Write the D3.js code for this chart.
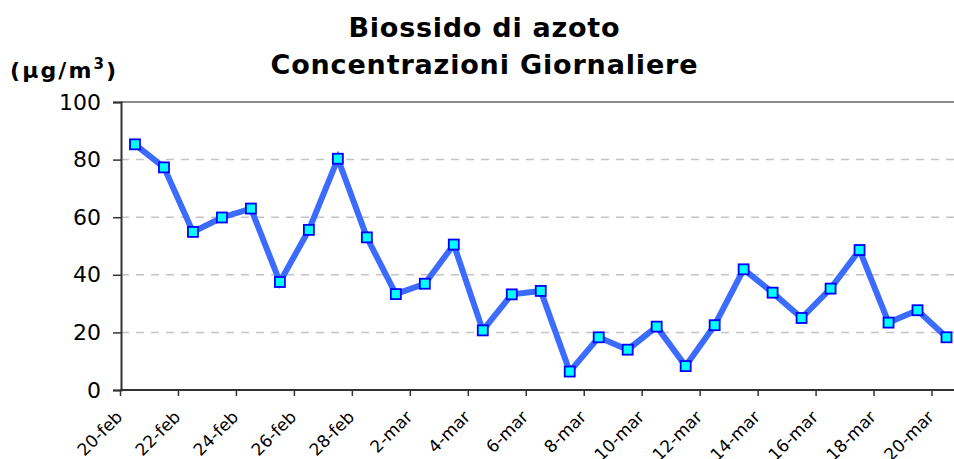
<!DOCTYPE html>
<html>
<head>
<meta charset="utf-8">
<script src="https://cdn.jsdelivr.net/npm/d3@7"></script>
<style>
  body { margin: 0; background: #fff; }
  svg { display: block; font-family: "DejaVu Sans", Verdana, sans-serif; }
</style>
</head>
<body>
<div id="chart"></div>
<script>
// daily NO2 concentrations, 20 Feb - 20 Mar
var days = ["20-feb","21-feb","22-feb","23-feb","24-feb","25-feb","26-feb","27-feb","28-feb",
  "1-mar","2-mar","3-mar","4-mar","5-mar","6-mar","7-mar","8-mar","9-mar","10-mar",
  "11-mar","12-mar","13-mar","14-mar","15-mar","16-mar","17-mar","18-mar","19-mar","20-mar"];
var values = [85.3, 77.3, 54.9, 59.9, 63.0, 37.5, 55.6, 80.3, 53.0,
  33.3, 36.9, 50.5, 20.7, 33.2, 34.4, 6.4, 18.3, 14.0, 22.0,
  8.3, 22.5, 41.9, 33.8, 25.0, 35.2, 48.6, 23.4, 27.7, 18.3];
var yTicks = [0, 20, 40, 60, 80, 100];

var width = 954, height = 459;

var svg = d3.select("#chart").append("svg")
  .attr("width", width)
  .attr("height", height);

// plot area runs a bit past the right edge, like the original picture
var x = d3.scaleBand().domain(days).range([120.5, 961]);
var y = d3.scaleLinear().domain([0, 100]).range([390, 102]);

// dashed gridlines
svg.append("g")
  .selectAll("line")
  .data(yTicks.filter(function(d){ return d > 0 && d < 100; }))
  .enter().append("line")
  .attr("x1", 121).attr("x2", width)
  .attr("y1", function(d){ return y(d); })
  .attr("y2", function(d){ return y(d); })
  .attr("stroke", "#c4c4c4")
  .attr("stroke-width", 1.5)
  .attr("stroke-dasharray", "8,7");

// top border
svg.append("line")
  .attr("x1", 121).attr("x2", width)
  .attr("y1", y(100)).attr("y2", y(100))
  .attr("stroke", "#8c8c8c")
  .attr("stroke-width", 2);

// y axis
var yAxis = svg.append("g")
  .attr("transform", "translate(121,0)")
  .call(d3.axisLeft(y).tickValues(yTicks).tickSize(8).tickPadding(12));
yAxis.select(".domain").attr("stroke", "#333").attr("stroke-width", 2);
yAxis.selectAll(".tick line").attr("stroke", "#333").attr("stroke-width", 1.5);
yAxis.selectAll("text")
  .attr("font-size", 22)
  .attr("font-family", "DejaVu Sans, Verdana, sans-serif")
  .attr("fill", "#000");

// x axis: ticks on category boundaries, every other day labelled
var labelled = days.filter(function(d, i){ return i % 2 == 0; });
var xg = svg.append("g");
xg.append("line")
  .attr("x1", 120).attr("x2", width)
  .attr("y1", y(0)).attr("y2", y(0))
  .attr("stroke", "#333").attr("stroke-width", 2);
xg.selectAll(".xt")
  .data(labelled)
  .enter().append("line")
  .attr("class", "xt")
  .attr("x1", function(d){ return x(d); })
  .attr("x2", function(d){ return x(d); })
  .attr("y1", y(0)).attr("y2", y(0) + 6)
  .attr("stroke", "#333").attr("stroke-width", 1.5);
xg.selectAll(".xl")
  .data(labelled)
  .enter().append("text")
  .attr("class", "xl")
  .attr("text-anchor", "end")
  .attr("font-size", 17)
  .attr("transform", function(d){ return "translate(" + (x(d) + 3) + "," + (y(0) + 28) + ") rotate(-45)"; })
  .text(function(d){ return d; });

// the series
var line = d3.line()
  .x(function(d, i){ return x(days[i]) + x.bandwidth() / 2; })
  .y(function(d){ return y(d); });

svg.append("path")
  .datum(values)
  .attr("d", line)
  .attr("fill", "none")
  .attr("stroke", "#3c6cff")
  .attr("stroke-width", 6)
  .attr("stroke-linejoin", "miter");

svg.append("g")
  .selectAll("rect")
  .data(values)
  .enter().append("rect")
  .attr("x", function(d, i){ return x(days[i]) + x.bandwidth() / 2 - 5; })
  .attr("y", function(d){ return y(d) - 5; })
  .attr("width", 10).attr("height", 10)
  .attr("fill", "#00ffff")
  .attr("stroke", "#0000ff")
  .attr("stroke-width", 1.8);

// titles
svg.append("text")
  .attr("x", 484).attr("y", 37)
  .attr("text-anchor", "middle")
  .attr("font-size", 27).attr("font-weight", "bold")
  .attr("textLength", 271).attr("lengthAdjust", "spacing")
  .text("Biossido di azoto");
svg.append("text")
  .attr("x", 484).attr("y", 74)
  .attr("text-anchor", "middle")
  .attr("font-size", 27).attr("font-weight", "bold")
  .attr("textLength", 427).attr("lengthAdjust", "spacing")
  .text("Concentrazioni Giornaliere");

var unit = svg.append("text")
  .attr("x", 10).attr("y", 78)
  .attr("font-size", 22).attr("font-weight", "bold")
  .attr("textLength", 106).attr("lengthAdjust", "spacing");
unit.append("tspan").text("(\u00b5g/m");
unit.append("tspan").attr("dy", -9).attr("font-size", 15).text("3");
unit.append("tspan").attr("dy", 9).text(")");
</script>
</body>
</html>
